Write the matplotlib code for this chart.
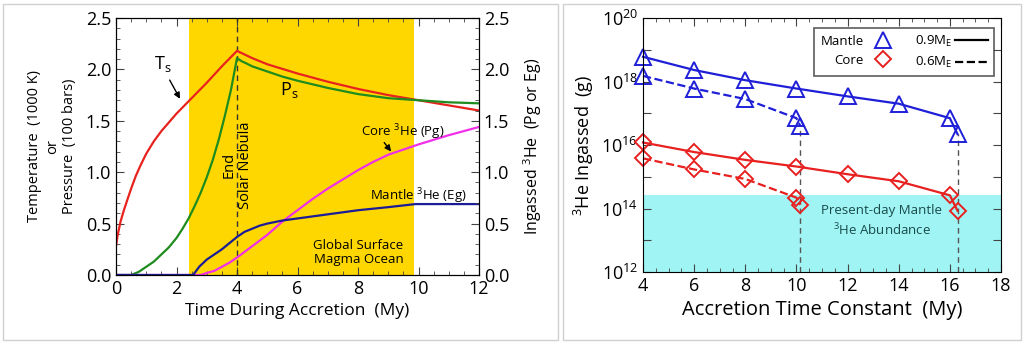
import matplotlib
matplotlib.use("Agg")
import matplotlib.pyplot as plt
from matplotlib.patches import Rectangle
from matplotlib.lines import Line2D
from matplotlib.ticker import MultipleLocator, FixedLocator

plt.rcParams['font.family'] = ['Open Sans', 'DejaVu Sans']
plt.rcParams['mathtext.fontset'] = 'custom'
plt.rcParams['mathtext.rm'] = 'Open Sans'

# ---- left panel: curves ----
ts_x = [0, 0.05, 0.15, 0.25, 0.35, 0.5, 0.65, 0.8, 1, 1.25, 1.5, 2, 2.5, 3, 3.5, 4,
        4.5, 5, 6, 7, 8, 9, 10, 11, 12]
ts_y = [0.28, 0.38, 0.52, 0.62, 0.71, 0.84, 0.96, 1.06, 1.18, 1.30, 1.40, 1.57, 1.72,
        1.87, 2.03, 2.18, 2.11, 2.05, 1.96, 1.88, 1.81, 1.75, 1.70, 1.65, 1.60]

ps_x = [0, 0.5, 0.75, 1, 1.25, 1.5, 1.75, 2, 2.2, 2.4, 2.6, 2.8, 3, 3.2, 3.4, 3.6, 3.8, 4,
        4.15, 4.3, 4.5, 5, 5.5, 6, 7, 8, 9, 10, 11, 12]
ps_y = [0, 0, 0.03, 0.08, 0.13, 0.20, 0.27, 0.36, 0.45, 0.55, 0.67, 0.80, 0.95, 1.12,
        1.32, 1.55, 1.80, 2.11, 2.08, 2.06, 2.03, 1.98, 1.93, 1.89, 1.82, 1.76, 1.72,
        1.70, 1.68, 1.67]

eg_x = [0, 2.55, 2.75, 3, 3.25, 3.5, 3.75, 4, 4.25, 4.5, 4.75, 5, 5.5, 6, 7, 8, 9, 9.9, 12]
eg_y = [0, 0, 0.08, 0.15, 0.20, 0.25, 0.31, 0.37, 0.42, 0.45, 0.48, 0.50, 0.53, 0.55,
        0.59, 0.63, 0.66, 0.69, 0.69]

pg_x = [0, 2.8, 3, 3.25, 3.5, 3.75, 4, 4.5, 5, 5.5, 6, 6.5, 7, 7.5, 8, 8.5, 9, 9.5, 10, 11, 12]
pg_y = [0, 0, 0.02, 0.04, 0.08, 0.12, 0.17, 0.28, 0.39, 0.52, 0.63, 0.74, 0.84, 0.93,
        1.02, 1.10, 1.17, 1.22, 1.27, 1.36, 1.44]

magma_start, magma_end = 2.41, 9.85
nebula_end = 4

# ---- right panel: ingassed 3He (g) vs accretion time constant ----
tau_09 = [4, 6, 8, 10, 12, 14, 16, 16.3]
mantle_09 = [6e18, 2.3e18, 1.1e18, 6e17, 3.4e17, 2e17, 7e16, 2.2e16]
core_09 = [1.2e16, 6e15, 3.4e15, 2.1e15, 1.2e15, 7.2e14, 2.6e14, 8.5e13]

tau_06 = [4, 6, 8, 10, 10.15]
mantle_06 = [1.5e18, 6e17, 2.8e17, 7e16, 4e16]
core_06 = [3.8e15, 1.7e15, 8.5e14, 2.2e14, 1.3e14]

present_day = 2.6e14

fig = plt.figure(figsize=(10.24, 3.44), dpi=100)

# light panel frames
for x0, x1 in [(3, 558), (563, 1021)]:
    fig.patches.append(Rectangle((x0 / 1024, 4 / 344), (x1 - x0) / 1024, 336 / 344,
                                 transform=fig.transFigure, fill=False,
                                 edgecolor='#d0d0d0', linewidth=1))

ax1 = fig.add_axes([116 / 1024, 1 - 275 / 344, 363 / 1024, 257 / 344])
ax1.axvspan(magma_start, magma_end, color='#ffd700', zorder=0, lw=0)
ax1.axvline(nebula_end, color='#333333', ls=(0, (4, 3)), lw=1)
ax1.plot(ts_x, ts_y, color='#e8231e', lw=1.6)
ax1.plot(ps_x, ps_y, color='#1e8c1e', lw=1.6)
ax1.plot(pg_x, pg_y, color='#f030e8', lw=1.6)
ax1.plot(eg_x, eg_y, color='#1c1c96', lw=1.6)
ax1.set_xlim(0, 12)
ax1.set_ylim(0, 2.5)
ax1.xaxis.set_major_locator(MultipleLocator(2))
ax1.xaxis.set_minor_locator(MultipleLocator(0.5))
ax1.yaxis.set_major_locator(MultipleLocator(0.5))
ax1.yaxis.set_minor_locator(MultipleLocator(0.1))
ax1.yaxis.set_major_formatter(plt.FormatStrFormatter('%.1f'))
ax1.tick_params(which='both', direction='in', top=True, right=True, labelsize=13, color='#444444')
ax1.tick_params(which='major', length=6)
ax1.tick_params(which='minor', length=3)
ax1.set_xlabel('Time During Accretion  (My)', fontsize=12.5)
ax1.set_ylabel('Temperature  (1000 K)\nor\nPressure  (100 bars)', fontsize=10.5,
               linespacing=1.25, labelpad=6)
ax1r = ax1.twinx()
ax1r.set_ylim(0, 2.5)
ax1r.yaxis.set_major_locator(MultipleLocator(0.5))
ax1r.yaxis.set_minor_locator(MultipleLocator(0.1))
ax1r.yaxis.set_major_formatter(plt.FormatStrFormatter('%.1f'))
ax1r.tick_params(which='both', direction='in', labelsize=13, color='#444444')
ax1r.tick_params(which='major', length=6)
ax1r.tick_params(which='minor', length=3)
ax1r.set_ylabel(r'Ingassed $^{3}$He  (Pg or Eg)', fontsize=11.5, labelpad=9)

ax1.text(1.56, 2.05, r'T$_\mathregular{s}$', fontsize=13, ha='center', va='center')
ax1.annotate('', xy=(2.16, 1.69), xytext=(1.73, 1.92),
             arrowprops=dict(arrowstyle='-|>', color='black', lw=1, mutation_scale=9))
ax1.text(5.74, 1.80, r'P$_\mathregular{s}$', fontsize=13, ha='center', va='center')
ax1.text(9.47, 1.39, r'Core $^{3}$He (Pg)', fontsize=9.5, ha='center', va='center')
ax1.annotate('', xy=(9.15, 1.18), xytext=(8.81, 1.31),
             arrowprops=dict(arrowstyle='-|>', color='black', lw=1, mutation_scale=9))
ax1.text(10.0, 0.77, r'Mantle $^{3}$He (Eg)', fontsize=9.5, ha='center', va='center')
ax1.text(8.02, 0.22, 'Global Surface\nMagma Ocean', fontsize=9.5, ha='center', va='center',
         linespacing=1.1)
ax1.text(4.0, 1.07, 'End\nSolar Nebula', fontsize=10.5, rotation=90, ha='center', va='center',
         multialignment='center', linespacing=1.1)

# ---- right panel ----
blue = '#1f1fd8'
red = '#e82020'
ax2 = fig.add_axes([643 / 1024, 1 - 272 / 344, 358 / 1024, 254 / 344])
ax2.set_yscale('log')
ax2.set_xlim(4, 18)
ax2.set_ylim(1e12, 1e20)
ax2.axhspan(1e12, present_day, color='#a0f4f4', lw=0, zorder=0)
ax2.vlines([tau_06[-1], tau_09[-1]], 1e12, [mantle_06[-1], mantle_09[-1]],
           colors='#555555', linestyles=(0, (4, 3)), lw=1, zorder=1)
tri = dict(markerfacecolor='none', markersize=11, markeredgewidth=1.4, clip_on=False)
dia = dict(markerfacecolor='none', markersize=8, markeredgewidth=1.4, clip_on=False)
ax2.plot(tau_09, mantle_09, '-', color=blue, marker='^', lw=1.6, **tri)
ax2.plot(tau_06, mantle_06, '--', color=blue, marker='^', lw=1.6, **tri)
ax2.plot(tau_09, core_09, '-', color=red, marker='D', lw=1.6, **dia)
ax2.plot(tau_06, core_06, '--', color=red, marker='D', lw=1.6, **dia)
ax2.xaxis.set_major_locator(MultipleLocator(2))
ax2.xaxis.set_minor_locator(MultipleLocator(0.5))
ax2.yaxis.set_major_locator(FixedLocator([10.0 ** k for k in range(12, 21)]))
ax2.yaxis.set_minor_locator(FixedLocator([]))
ax2.set_yticklabels(['$10^{%d}$' % k if k % 2 == 0 else '' for k in range(12, 21)])
ax2.tick_params(which='both', direction='in', top=True, right=True, labelsize=13, color='#444444')
ax2.tick_params(which='major', length=6)
ax2.tick_params(which='minor', length=3)
ax2.set_xlabel('Accretion Time Constant  (My)', fontsize=14.5)
ax2.set_ylabel(r'$^{3}$He Ingassed  (g)', fontsize=13)
ax2.text(13.34, 4e13, 'Present-day Mantle\n$^{3}$He Abundance', fontsize=9.5,
         ha='center', va='center', color='#1a4a4a', linespacing=1.3)

handles = [
    Line2D([], [], ls='none', marker='^', color=blue, markerfacecolor='none', markersize=11, markeredgewidth=1.4),
    Line2D([], [], ls='none', marker='D', color=red, markerfacecolor='none', markersize=8, markeredgewidth=1.4),
    Line2D([], [], ls='-', color='black', lw=1.6),
    Line2D([], [], ls='--', color='black', lw=1.6),
]
labels = ['Mantle', 'Core', r'0.9M$_\mathregular{E}$', r'0.6M$_\mathregular{E}$']
leg = ax2.legend(handles, labels, ncol=2, markerfirst=False, loc='upper right',
                 bbox_to_anchor=(0.98, 0.96), borderaxespad=0, fontsize=9.5, frameon=True,
                 fancybox=False, edgecolor='#333333', handlelength=2.5, handletextpad=0.2,
                 columnspacing=1.2, borderpad=0.45, labelspacing=0.45)
leg.get_frame().set_linewidth(1.2)

fig.savefig('out.png', dpi=100)
